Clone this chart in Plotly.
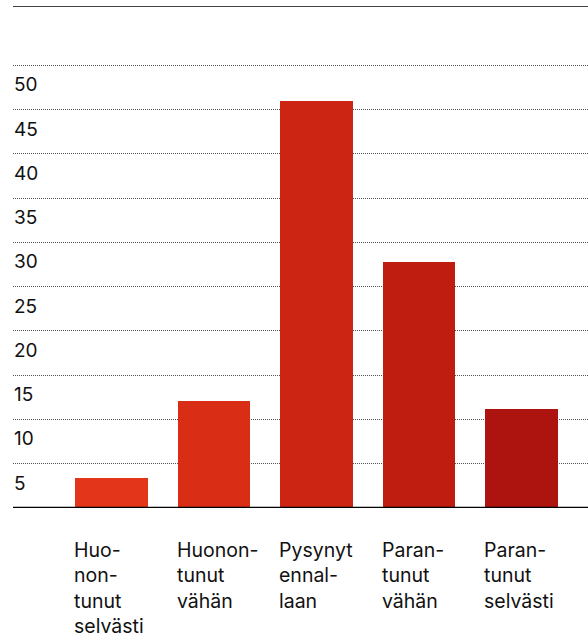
import plotly.graph_objects as go

# kategoriat ja arvot (%)
categories = ["Huonontunut selvästi", "Huonontunut vähän", "Pysynyt ennallaan",
              "Parantunut vähän", "Parantunut selvästi"]
cat_labels = ["Huo-<br>non-<br>tunut<br>selvästi", "Huonon-<br>tunut<br>vähän",
              "Pysynyt<br>ennal-<br>laan", "Paran-<br>tunut<br>vähän", "Paran-<br>tunut<br>selvästi"]
values = [3.4, 12.1, 46.0, 27.8, 11.2]
bar_colors = ["#e3351a", "#da2d16", "#cd2513", "#bf1d10", "#ae140f"]
y_ticks = [5, 10, 15, 20, 25, 30, 35, 40, 45, 50]

FONT = "Inter, Roboto, sans-serif"
x_idx = list(range(len(categories)))
bar_w = 0.71

fig = go.Figure()
fig.add_trace(go.Bar(x=x_idx, y=values, width=bar_w,
                     marker=dict(color=bar_colors, line=dict(width=0)),
                     hovertext=categories, hoverinfo="text+y"))

# y-akselin luvut gridviivojen alapuolelle
for v in y_ticks:
    fig.add_annotation(x=0, xref="paper", y=v, yref="y", text=str(v),
                       showarrow=False, xanchor="left", yanchor="top", yshift=-6,
                       xshift=-1,
                       font=dict(family=FONT, size=19, color="#111"))

# kategoriat palkkien alle, vasemmalle tasattuna
for i, lab in enumerate(cat_labels):
    fig.add_annotation(x=i - bar_w / 2, y=0, xref="x", yref="y", text=lab,
                       showarrow=False, xanchor="left", yanchor="top", yshift=-28,
                       xshift=-3, align="left",
                       font=dict(family=FONT, size=19.5, color="#111"))

# yläviiva ja perusviiva
fig.add_shape(type="line", xref="paper", yref="y", x0=0, x1=1, y0=56.7, y1=56.7,
              line=dict(color="#444", width=2))
fig.add_shape(type="line", xref="paper", yref="y", x0=0, x1=1, y0=0, y1=0,
              line=dict(color="#000", width=2.5))

fig.update_layout(width=588, height=637,
                  margin=dict(l=13, r=0, t=6, b=129),
                  plot_bgcolor="white", paper_bgcolor="white",
                  showlegend=False, bargap=0,
                  xaxis=dict(range=[-0.96, 4.65], showgrid=False, zeroline=False,
                             showticklabels=False, ticks="", fixedrange=True),
                  yaxis=dict(range=[0, 56.7], tickvals=y_ticks, showticklabels=False,
                             showgrid=True, gridcolor="#555", gridwidth=1,
                             griddash="1px,1px", zeroline=False, fixedrange=True))

fig.write_html("out.html", config={"displayModeBar": False},
               post_script="document.body.style.margin='0';")
